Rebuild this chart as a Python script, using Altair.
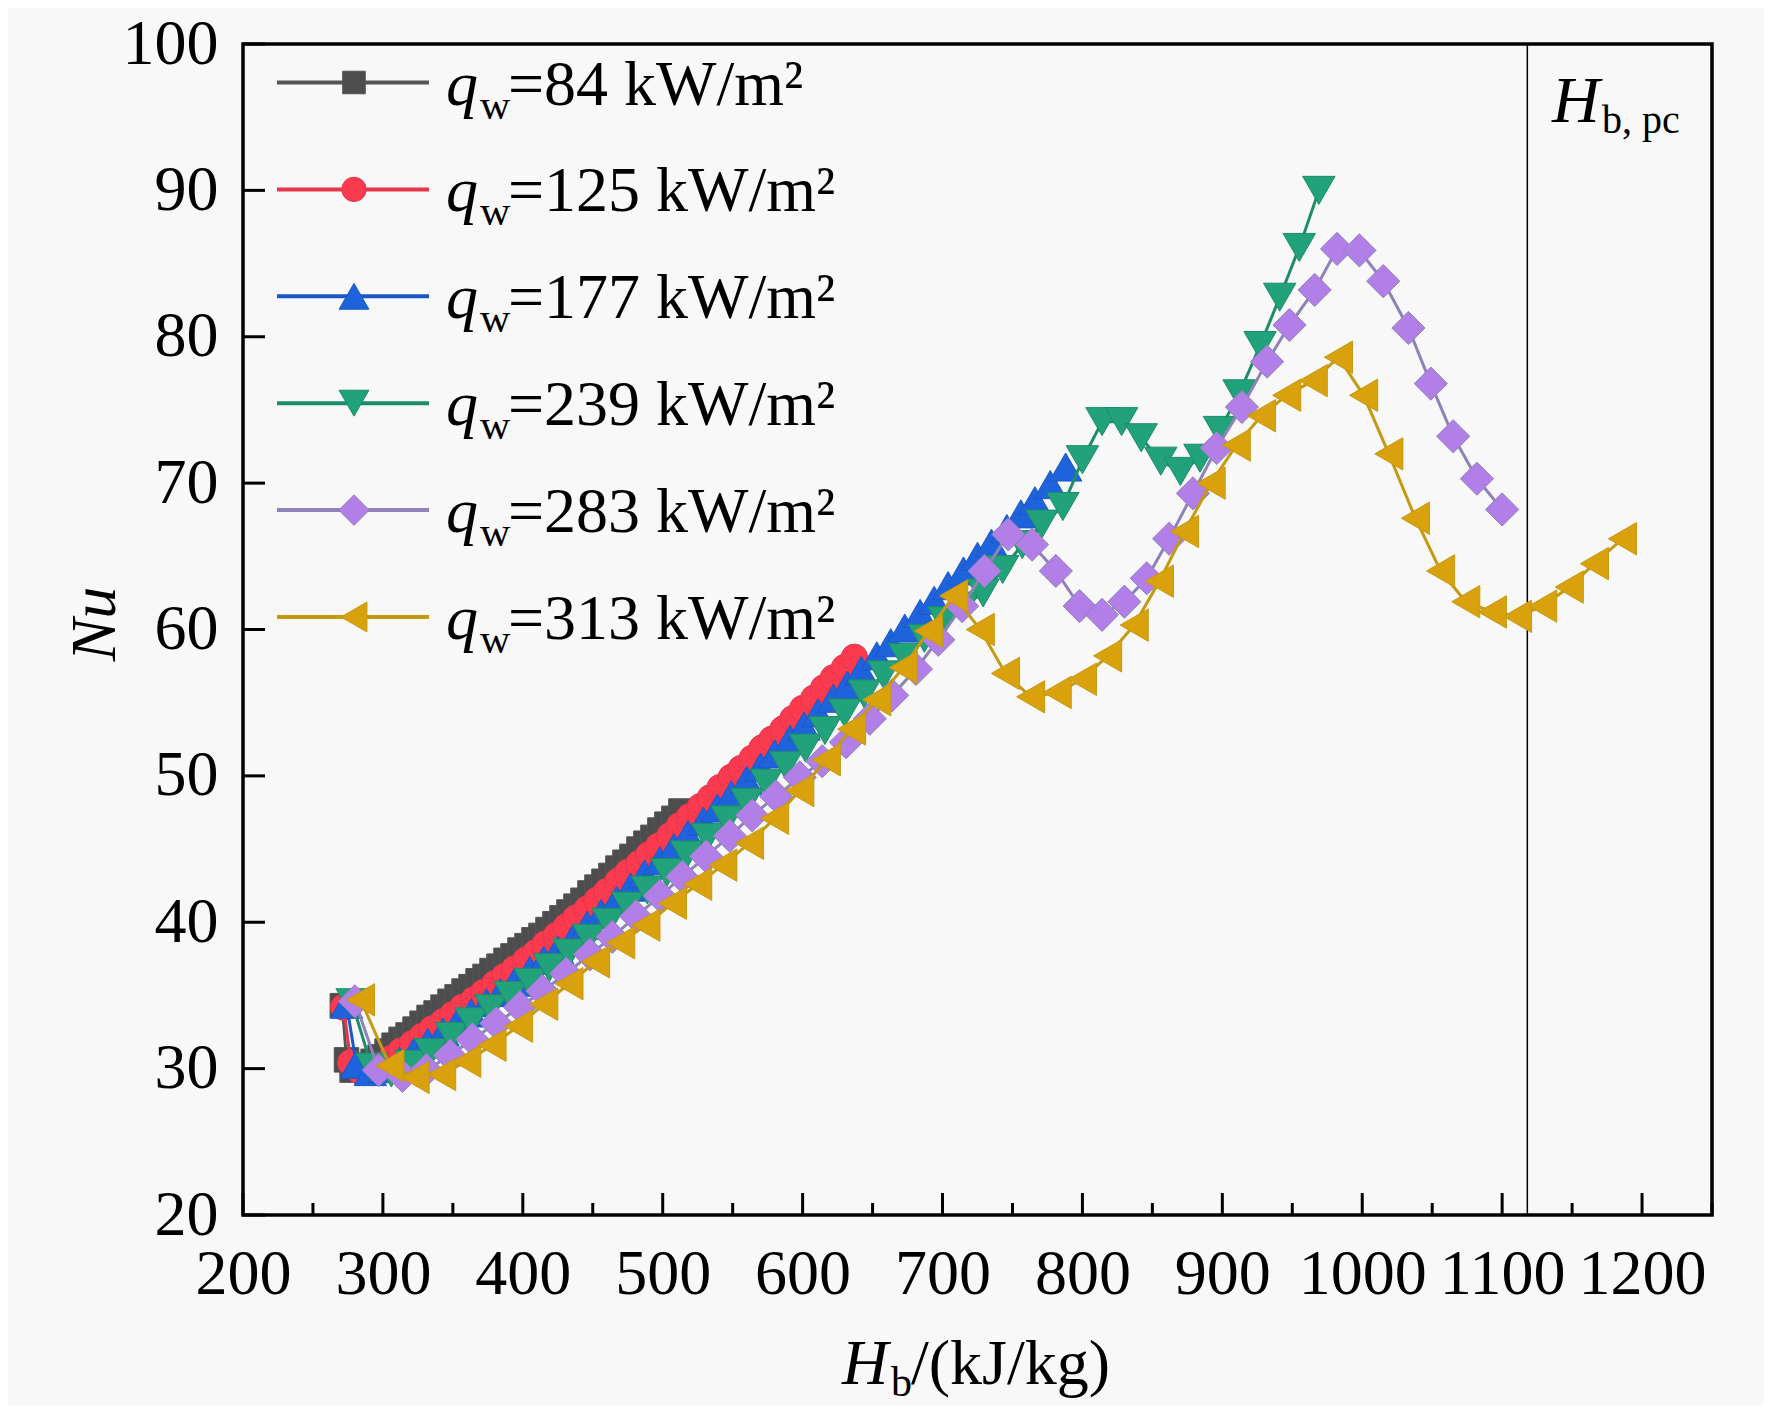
import altair as alt
import pandas as pd

FONT = "Liberation Serif"

# ---------------- data ----------------
SERIES = ["84", "125", "177", "239", "283", "313"]  # q_w, kW/m^2

h_84 = [271, 274, 278, 283, 288, 293, 298, 303, 308, 313, 318, 323, 328, 333, 338, 343, 348, 353, 358, 363,
        368, 373, 378, 383, 388, 393, 398, 403, 408, 413, 418, 423, 428, 433, 438, 443, 448, 453, 458, 463,
        468, 473, 478, 483, 488, 493, 498, 503, 508, 513]
nu_84 = [34.3, 30.6, 29.9, 30.0, 30.2, 30.5, 30.8, 31.2, 31.6, 32.0, 32.3, 32.7, 33.1, 33.5, 33.8, 34.2, 34.6, 34.9, 35.3, 35.6,
         36.0, 36.3, 36.7, 37.0, 37.4, 37.7, 38.1, 38.4, 38.8, 39.1, 39.5, 39.9, 40.3, 40.7, 41.1, 41.5, 42.0, 42.4, 42.8, 43.2,
         43.7, 44.1, 44.5, 45.0, 45.4, 45.8, 46.3, 46.7, 47.1, 47.6]

h_125 = [272, 277, 284, 291, 298, 306, 313, 321, 328, 335, 343, 350, 357, 365, 372, 380, 387, 394, 402, 409,
         416, 424, 431, 438, 446, 453, 460, 468, 475, 483, 490, 497, 505, 512, 519, 527, 534, 541, 549, 556,
         564, 571, 578, 586, 593, 600, 608, 615, 622, 630, 637]
nu_125 = [34.2, 30.4, 29.8, 29.9, 30.2, 30.7, 31.2, 31.7, 32.2, 32.7, 33.2, 33.7, 34.2, 34.7, 35.2, 35.8, 36.3, 36.8, 37.4, 37.9,
          38.5, 39.1, 39.7, 40.3, 40.9, 41.5, 42.1, 42.8, 43.4, 44.0, 44.6, 45.2, 45.9, 46.6, 47.2, 47.9, 48.5, 49.2, 49.9, 50.5,
          51.2, 51.9, 52.5, 53.2, 53.9, 54.6, 55.3, 56.0, 56.7, 57.4, 58.1]

h_177 = [274, 281, 291, 301, 312, 322, 332, 343, 353, 363, 374, 384, 394, 405, 415, 425, 436, 446, 456, 467,
         477, 487, 498, 508, 518, 529, 539, 549, 560, 570, 580, 591, 601, 611, 622, 632, 642, 653, 663, 673,
         684, 694, 704, 715, 725, 735, 746, 756, 766, 777, 788]
nu_177 = [34.4, 30.3, 29.8, 30.0, 30.5, 31.1, 31.8, 32.5, 33.1, 33.8, 34.5, 35.2, 35.9, 36.7, 37.4, 38.1, 38.9, 39.8, 40.6, 41.5,
          42.4, 43.3, 44.2, 45.1, 46.0, 46.9, 47.8, 48.7, 49.7, 50.6, 51.5, 52.5, 53.4, 54.3, 55.3, 56.2, 57.2, 58.2, 59.1, 60.1,
          61.1, 62.0, 63.0, 64.0, 65.0, 65.9, 66.9, 67.9, 68.8, 69.9, 71.1]

h_239 = [278, 292, 306, 320, 334, 349, 363, 377, 391, 405, 419, 433, 447, 461, 475, 489, 503, 517, 532, 546,
         560, 574, 588, 602, 616, 630, 644, 658, 673, 687, 701, 715, 729, 743, 757, 771, 786, 800, 814, 828,
         842, 856, 870, 884, 898, 912, 927, 941, 955, 969]
nu_239 = [34.5, 30.1, 29.7, 30.3, 31.1, 32.2, 33.2, 34.1, 35.0, 35.9, 36.9, 37.9, 38.9, 40.0, 41.1, 42.2, 43.4, 44.6, 45.8, 47.0,
          48.2, 49.5, 50.7, 51.9, 53.1, 54.3, 55.6, 56.9, 58.1, 59.4, 60.6, 61.6, 62.5, 64.1, 65.8, 67.2, 68.4, 71.6, 74.2, 74.2,
          73.1, 71.5, 70.8, 71.7, 73.6, 76.1, 79.4, 82.7, 86.1, 90.0]

h_283 = [280, 297, 314, 331, 348, 364, 381, 398, 414, 431, 448, 464, 481, 498, 514, 531, 548, 564, 581, 598,
         614, 631, 648, 664, 681, 697, 714, 730, 747, 764, 781, 798, 814, 830, 846, 862, 879, 896, 914, 932,
         948, 966, 982, 998, 1015, 1033, 1049, 1065, 1082, 1100]
nu_283 = [34.6, 29.9, 29.5, 29.9, 30.9, 32.0, 33.1, 34.2, 35.3, 36.5, 37.8, 39.0, 40.4, 41.8, 43.1, 44.5, 45.9, 47.3, 48.6, 49.9,
          51.0, 52.3, 53.9, 55.5, 57.3, 59.3, 61.6, 64.0, 66.5, 65.8, 64.0, 61.6, 61.0, 61.9, 63.5, 66.2, 69.3, 72.4, 75.2, 78.3,
          80.8, 83.2, 86.0, 85.9, 83.8, 80.6, 76.8, 73.2, 70.3, 68.2]

h_313 = [284, 305, 323, 342, 360, 378, 397, 415, 433, 452, 470, 488, 507, 525, 543, 562, 580, 598, 617, 635,
         653, 672, 690, 708, 727, 745, 763, 782, 800, 818, 837, 855, 873, 892, 910, 928, 946, 965, 983, 1001,
         1019, 1038, 1056, 1074, 1093, 1111, 1129, 1148, 1166, 1186]
nu_313 = [34.7, 30.2, 29.4, 29.6, 30.5, 31.6, 32.9, 34.4, 35.8, 37.3, 38.6, 39.8, 41.3, 42.6, 43.9, 45.4, 47.1, 49.0, 51.1, 53.2,
          55.2, 57.4, 59.9, 62.3, 60.0, 57.0, 55.4, 55.7, 56.6, 58.2, 60.3, 63.3, 66.7, 70.0, 72.6, 74.6, 76.0, 77.0, 78.6, 76.0,
          72.0, 67.6, 64.0, 61.9, 61.2, 60.9, 61.6, 62.9, 64.5, 66.2]

H_PC = [1118]  # pseudo-critical bulk enthalpy marker

X_TICKS = [200, 300, 400, 500, 600, 700, 800, 900, 1000, 1100, 1200]
X_MINOR = [250, 350, 450, 550, 650, 750, 850, 950, 1050, 1150, 1250]
Y_TICKS = [20, 30, 40, 50, 60, 70, 80, 90, 100]

# ---------------- style ----------------
STYLE = {
    "84":  dict(shape="square",        size=600,  fill="#4d4d4d", line="#555555"),
    "125": dict(shape="circle",        size=700,  fill="#f93a4f", line="#e5364b"),
    "177": dict(shape="triangle-up",   size=1050, fill="#1f63dc", line="#1a58c8"),
    "239": dict(shape="triangle-down", size=1050, fill="#22a27a", line="#1c8c69"),
    "283": dict(shape="diamond",       size=1100, fill="#b27ee8", line="#8f82b8"),
    "313": dict(shape="triangle-left", size=1050, fill="#d9a20c", line="#c49a12"),
}
W, H = 1469, 1171
FS = 64
TOP = 36

series_h = [h_84, h_125, h_177, h_239, h_283, h_313]
series_nu = [nu_84, nu_125, nu_177, nu_239, nu_283, nu_313]
rows = []
for name, hs, nus in zip(SERIES, series_h, series_nu):
    for i, (a, b) in enumerate(zip(hs, nus)):
        rows.append({"series": name, "i": i, "h": a, "nu": b})
df = pd.DataFrame(rows)

x_scale = alt.Scale(domain=[200, 1250], nice=False, zero=False)
y_scale = alt.Scale(domain=[20, 100], nice=False, zero=False)
x_axis = alt.Axis(values=X_TICKS, format="d", ticks=False, domain=False, grid=False, labelFont=FONT,
                  labelFontSize=FS, labelColor="black", labelPadding=27, labelOverlap=False,
                  labelFlush=False, title=None)
y_axis = alt.Axis(values=Y_TICKS, format="d", ticks=False, domain=False, grid=False, labelFont=FONT,
                  labelFontSize=FS, labelColor="black", labelPadding=25, labelOverlap=False,
                  labelFlush=False, title=None)
X = alt.X("h:Q", scale=x_scale, axis=x_axis)
Y = alt.Y("nu:Q", scale=y_scale, axis=y_axis)

layers = []
# pseudo-critical line
layers.append(alt.Chart(pd.DataFrame({"h": H_PC})).mark_rule(color="black", strokeWidth=1.5).encode(x=X))
# inward ticks
layers.append(alt.Chart(pd.DataFrame({"h": X_TICKS})).mark_rule(color="black", strokeWidth=3)
              .encode(x=X, y=alt.value(H), y2=alt.value(H - 22)))
layers.append(alt.Chart(pd.DataFrame({"h": X_MINOR})).mark_rule(color="black", strokeWidth=3)
              .encode(x=X, y=alt.value(H), y2=alt.value(H - 12)))
layers.append(alt.Chart(pd.DataFrame({"nu": Y_TICKS})).mark_rule(color="black", strokeWidth=3)
              .encode(y=Y, x=alt.value(0), x2=alt.value(22)))

for name in SERIES:
    st = STYLE[name]
    base = alt.Chart(df).transform_filter(alt.datum.series == name)
    layers.append(base.mark_line(color=st["line"], strokeWidth=3).encode(x=X, y=Y, order="i:Q"))
    layers.append(base.mark_point(shape=st["shape"], size=st["size"], filled=True, fill=st["fill"],
                                  stroke=st["line"], strokeWidth=1, opacity=1).encode(x=X, y=Y))

# legend (drawn manually to allow italic q and subscript w)
leg = pd.DataFrame({
    "row": list(range(len(SERIES))),
    "label": ["=" + s + " kW/m²" for s in SERIES],
    "shape": [STYLE[s]["shape"] for s in SERIES],
    "fill": [STYLE[s]["fill"] for s in SERIES],
    "line": [STYLE[s]["line"] for s in SERIES],
    "size": [STYLE[s]["size"] * 0.85 for s in SERIES],
})
lb = alt.Chart(leg).transform_calculate(
    ly="38.5 + datum.row * 106.9",
    ty="38.5 + datum.row * 106.9 + 22",
    sy="38.5 + datum.row * 106.9 + 36",
    lx1="34", lx2="186", mx="111",
)
layers.append(lb.mark_rule(strokeWidth=4).encode(
    x=alt.X("lx1:Q", scale=None), x2="lx2:Q", y=alt.Y("ly:Q", scale=None),
    color=alt.Color("line:N", scale=None)))
layers.append(lb.mark_point(filled=True, strokeWidth=1, opacity=1).encode(
    x=alt.X("mx:Q", scale=None), y=alt.Y("ly:Q", scale=None),
    shape=alt.Shape("shape:N", scale=None), fill=alt.Fill("fill:N", scale=None),
    stroke=alt.Stroke("line:N", scale=None), size=alt.Size("size:Q", scale=None)))
layers.append(lb.mark_text(font=FONT, fontSize=FS, fontStyle="italic", align="left",
                           baseline="alphabetic", text="q", color="black").encode(
    x=alt.value(203), y=alt.Y("ty:Q", scale=None)))
layers.append(lb.mark_text(font=FONT, fontSize=42, align="left", baseline="alphabetic",
                           text="w", color="black").encode(
    x=alt.value(237), y=alt.Y("sy:Q", scale=None)))
layers.append(lb.mark_text(font=FONT, fontSize=FS, align="left", baseline="alphabetic",
                           color="black").encode(
    x=alt.value(265), y=alt.Y("ty:Q", scale=None), text="label:N"))


def txt(s, x, y, size, italic=False, align="left", angle=0, baseline="alphabetic"):
    return alt.Chart(pd.DataFrame({"t": [s]})).mark_text(
        font=FONT, fontSize=size, fontStyle="italic" if italic else "normal",
        align=align, baseline=baseline, angle=angle, color="black").encode(
        x=alt.value(x), y=alt.value(y), text="t:N")


# axis titles
layers.append(txt("Nu", -147, 580, FS, italic=True, align="center", angle=270, baseline="middle"))
layers.append(txt("H", 599, 1340, FS, italic=True))
layers.append(txt("b", 648, 1352, 42))
layers.append(txt("/(kJ/kg)", 668, 1340, FS))
# H_b,pc label
layers.append(txt("H", 1309, 78, 66, italic=True))
layers.append(txt("b, pc", 1359, 89, 40))

chart = alt.layer(*layers).properties(
    width=W, height=H,
    autosize=alt.AutoSizeParams(type="none"),
    padding={"left": 235, "top": TOP, "right": 52, "bottom": 190},
).configure(background="#f8f8f8").configure_view(stroke="black", strokeWidth=3.5, fill="#f8f8f8")

chart.save("out.html", embed_options={"renderer": "svg", "actions": False})
